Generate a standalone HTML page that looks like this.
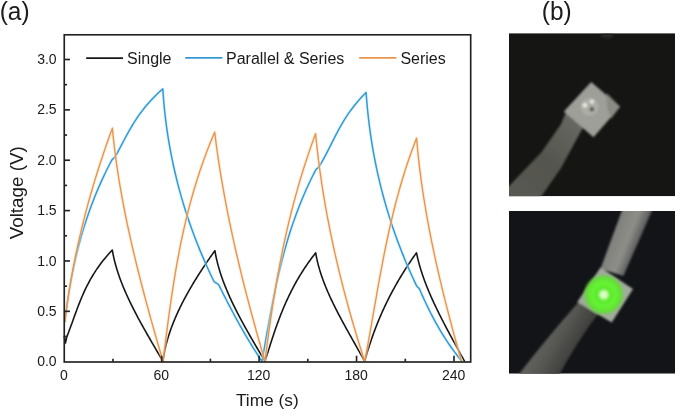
<!DOCTYPE html>
<html><head><meta charset="utf-8"><style>
html,body{margin:0;padding:0;background:#fff;}
body{width:675px;height:411px;overflow:hidden;position:relative;}
svg{position:absolute;left:0;top:0;}
text{font-family:"Liberation Sans",sans-serif;fill:#1a1a1a;}
</style></head><body>
<svg width="675" height="411" viewBox="0 0 675 411">
<defs>
 <filter id="soft" x="-5%" y="-5%" width="110%" height="110%"><feGaussianBlur stdDeviation="1.2"/></filter>
 <filter id="soft2" x="-20%" y="-20%" width="140%" height="140%"><feGaussianBlur stdDeviation="2.5"/></filter>
 <filter id="blur05"><feGaussianBlur stdDeviation="0.35"/></filter>
 <radialGradient id="glow" cx="0.5" cy="0.5" r="0.5">
  <stop offset="0" stop-color="#f4fff0"/>
  <stop offset="0.15" stop-color="#d0ffb0"/>
  <stop offset="0.3" stop-color="#58e82a"/>
  <stop offset="0.55" stop-color="#66f433"/>
  <stop offset="0.82" stop-color="#5ee030" stop-opacity="0.95"/>
  <stop offset="1" stop-color="#6ad040" stop-opacity="0"/>
 </radialGradient>
 <linearGradient id="arm1" x1="0" y1="1" x2="1" y2="0">
  <stop offset="0" stop-color="#5a5a55"/>
  <stop offset="0.5" stop-color="#55554f"/>
  <stop offset="1" stop-color="#6c6c66"/>
 </linearGradient>
 <linearGradient id="arm2" gradientUnits="userSpaceOnUse" x1="615" y1="232" x2="642" y2="243">
  <stop offset="0" stop-color="#80807c"/>
  <stop offset="0.5" stop-color="#8e8e89"/>
  <stop offset="1" stop-color="#4c4c50"/>
 </linearGradient>
 <linearGradient id="arm3" gradientUnits="userSpaceOnUse" x1="545" y1="330" x2="575" y2="348">
  <stop offset="0" stop-color="#62625e"/>
  <stop offset="0.4" stop-color="#585854"/>
  <stop offset="1" stop-color="#40403d"/>
 </linearGradient>
</defs>
<g filter="url(#blur05)">
<text transform="translate(-0.3,20.3) scale(0.94,1)" font-size="26">(a)</text>
<text transform="translate(541.8,19.8) scale(0.94,1)" font-size="26">(b)</text>
<text transform="translate(23.3,192.8) rotate(-90)" text-anchor="middle" font-size="18.8">Voltage (V)</text>
<text x="267.3" y="406" text-anchor="middle" font-size="17.3">Time (s)</text>
<g font-size="14"><text x="63.85" y="380" text-anchor="middle">0</text><text x="161.29" y="380" text-anchor="middle">60</text><text x="258.73" y="380" text-anchor="middle">120</text><text x="356.16" y="380" text-anchor="middle">180</text><text x="453.60" y="380" text-anchor="middle">240</text><text x="56.6" y="366.30" text-anchor="end">0.0</text><text x="56.6" y="315.93" text-anchor="end">0.5</text><text x="56.6" y="265.57" text-anchor="end">1.0</text><text x="56.6" y="215.20" text-anchor="end">1.5</text><text x="56.6" y="164.83" text-anchor="end">2.0</text><text x="56.6" y="114.47" text-anchor="end">2.5</text><text x="56.6" y="64.10" text-anchor="end">3.0</text></g>
<g font-size="16">
<text x="127" y="63.5">Single</text>
<text x="226" y="63.5">Parallel &amp; Series</text>
<text x="400.4" y="63.5">Series</text>
</g>
<line x1="86.2" y1="58.2" x2="123" y2="58.2" stroke="#181818" stroke-width="1.8"/>
<line x1="185.3" y1="57.9" x2="222.3" y2="57.9" stroke="#3498d4" stroke-width="1.6"/>
<line x1="359.1" y1="57.9" x2="396.4" y2="57.9" stroke="#e8944f" stroke-width="1.6"/>
<g fill="none" stroke-linejoin="round" stroke-linecap="round">
<path d="M64.30,336.30L65.40,343.00L66.90,336.60L67.47,335.13L68.04,333.67L68.60,332.20L69.16,330.74L69.70,329.27L70.25,327.80L70.79,326.34L71.32,324.87L71.85,323.41L72.38,321.94L72.91,320.47L73.44,319.01L73.97,317.54L74.50,316.07L75.03,314.61L75.57,313.14L76.11,311.68L76.65,310.21L77.20,308.74L77.75,307.28L78.31,305.81L78.88,304.35L79.46,302.88L80.04,301.41L80.64,299.95L81.24,298.48L81.86,297.02L82.49,295.55L83.13,294.08L83.79,292.62L84.46,291.15L85.15,289.68L85.85,288.22L86.57,286.75L87.30,285.29L88.06,283.82L88.83,282.35L89.63,280.89L90.44,279.42L91.28,277.96L92.14,276.49L93.02,275.02L93.92,273.56L94.85,272.09L95.81,270.63L96.79,269.16L97.80,267.69L98.84,266.23L99.90,264.76L101.00,263.29L102.12,261.83L103.28,260.36L104.46,258.90L105.68,257.43L106.94,255.96L108.22,254.50L109.55,253.03L110.90,251.57L112.30,250.10L112.63,251.99L112.99,253.87L113.37,255.76L113.78,257.65L114.22,259.53L114.68,261.42L115.17,263.31L115.69,265.19L116.23,267.08L116.79,268.96L117.38,270.85L117.99,272.74L118.62,274.62L119.28,276.51L119.95,278.40L120.65,280.28L121.37,282.17L122.11,284.06L122.86,285.94L123.64,287.83L124.43,289.72L125.24,291.60L126.07,293.49L126.92,295.37L127.78,297.26L128.66,299.15L129.55,301.03L130.46,302.92L131.38,304.81L132.31,306.69L133.26,308.58L134.22,310.47L135.20,312.35L136.18,314.24L137.17,316.13L138.18,318.01L139.20,319.90L140.22,321.78L141.25,323.67L142.30,325.56L143.35,327.44L144.40,329.33L145.47,331.22L146.54,333.10L147.62,334.99L148.70,336.88L149.78,338.76L150.87,340.65L151.97,342.54L153.07,344.42L154.17,346.31L155.27,348.19L156.37,350.08L157.48,351.97L158.58,353.85L159.69,355.74L160.79,357.63L161.90,359.51L163.00,361.40L163.24,359.52L163.51,357.64L163.81,355.77L164.14,353.89L164.49,352.01L164.87,350.13L165.28,348.25L165.71,346.38L166.17,344.50L166.66,342.62L167.17,340.74L167.70,338.86L168.26,336.99L168.85,335.11L169.46,333.23L170.09,331.35L170.75,329.47L171.43,327.60L172.13,325.72L172.85,323.84L173.60,321.96L174.37,320.08L175.15,318.21L175.96,316.33L176.79,314.45L177.65,312.57L178.52,310.69L179.41,308.82L180.32,306.94L181.25,305.06L182.19,303.18L183.16,301.31L184.14,299.43L185.14,297.55L186.16,295.67L187.20,293.79L188.25,291.92L189.32,290.04L190.40,288.16L191.50,286.28L192.61,284.40L193.74,282.53L194.89,280.65L196.05,278.77L197.22,276.89L198.41,275.01L199.60,273.14L200.82,271.26L202.04,269.38L203.28,267.50L204.53,265.62L205.79,263.75L207.06,261.87L208.34,259.99L209.63,258.11L210.93,256.23L212.25,254.36L213.57,252.48L214.90,250.60L215.22,252.48L215.56,254.36L215.94,256.23L216.34,258.11L216.76,259.99L217.21,261.87L217.69,263.75L218.19,265.62L218.71,267.50L219.26,269.38L219.83,271.26L220.43,273.14L221.05,275.01L221.68,276.89L222.34,278.77L223.02,280.65L223.72,282.53L224.44,284.40L225.18,286.28L225.94,288.16L226.72,290.04L227.51,291.92L228.32,293.79L229.15,295.67L230.00,297.55L230.86,299.43L231.73,301.31L232.62,303.18L233.53,305.06L234.45,306.94L235.38,308.82L236.33,310.69L237.28,312.57L238.25,314.45L239.24,316.33L240.23,318.21L241.23,320.08L242.25,321.96L243.27,323.84L244.30,325.72L245.34,327.60L246.39,329.47L247.45,331.35L248.51,333.23L249.58,335.11L250.66,336.99L251.74,338.86L252.83,340.74L253.92,342.62L255.02,344.50L256.12,346.38L257.22,348.25L258.33,350.13L259.44,352.01L260.55,353.89L261.66,355.77L262.77,357.64L263.89,359.52L265.00,361.40L265.58,359.56L266.15,357.72L266.73,355.88L267.30,354.04L267.88,352.20L268.46,350.36L269.04,348.52L269.62,346.67L270.21,344.83L270.80,342.99L271.40,341.15L272.00,339.31L272.60,337.47L273.21,335.63L273.83,333.79L274.46,331.95L275.09,330.11L275.73,328.27L276.38,326.43L277.04,324.59L277.71,322.75L278.39,320.91L279.08,319.06L279.78,317.22L280.49,315.38L281.22,313.54L281.96,311.70L282.71,309.86L283.47,308.02L284.26,306.18L285.05,304.34L285.86,302.50L286.69,300.66L287.54,298.82L288.40,296.98L289.28,295.14L290.18,293.29L291.10,291.45L292.03,289.61L292.99,287.77L293.97,285.93L294.97,284.09L295.99,282.25L297.03,280.41L298.10,278.57L299.18,276.73L300.30,274.89L301.43,273.05L302.60,271.21L303.78,269.37L305.00,267.53L306.24,265.68L307.50,263.84L308.80,262.00L310.12,260.16L311.47,258.32L312.85,256.48L314.26,254.64L315.70,252.80L316.01,254.64L316.35,256.48L316.72,258.32L317.12,260.16L317.55,262.00L318.00,263.84L318.48,265.68L318.98,267.53L319.52,269.37L320.07,271.21L320.65,273.05L321.25,274.89L321.88,276.73L322.53,278.57L323.20,280.41L323.89,282.25L324.60,284.09L325.33,285.93L326.08,287.77L326.85,289.61L327.63,291.45L328.44,293.29L329.26,295.14L330.09,296.98L330.95,298.82L331.81,300.66L332.69,302.50L333.59,304.34L334.50,306.18L335.42,308.02L336.35,309.86L337.29,311.70L338.24,313.54L339.21,315.38L340.18,317.22L341.16,319.06L342.15,320.91L343.14,322.75L344.15,324.59L345.16,326.43L346.17,328.27L347.19,330.11L348.22,331.95L349.25,333.79L350.28,335.63L351.31,337.47L352.35,339.31L353.38,341.15L354.42,342.99L355.46,344.83L356.50,346.67L357.53,348.52L358.57,350.36L359.60,352.20L360.63,354.04L361.65,355.88L362.67,357.72L363.69,359.56L364.70,361.40L365.20,359.56L365.72,357.72L366.24,355.88L366.77,354.04L367.32,352.20L367.88,350.36L368.45,348.52L369.03,346.67L369.62,344.83L370.22,342.99L370.83,341.15L371.46,339.31L372.10,337.47L372.75,335.63L373.41,333.79L374.09,331.95L374.77,330.11L375.47,328.27L376.19,326.43L376.91,324.59L377.65,322.75L378.40,320.91L379.17,319.06L379.95,317.22L380.74,315.38L381.54,313.54L382.36,311.70L383.19,309.86L384.04,308.02L384.90,306.18L385.78,304.34L386.66,302.50L387.57,300.66L388.49,298.82L389.42,296.98L390.37,295.14L391.33,293.29L392.30,291.45L393.30,289.61L394.30,287.77L395.33,285.93L396.37,284.09L397.42,282.25L398.49,280.41L399.57,278.57L400.68,276.73L401.79,274.89L402.93,273.05L404.08,271.21L405.24,269.37L406.43,267.53L407.62,265.68L408.84,263.84L410.07,262.00L411.32,260.16L412.59,258.32L413.88,256.48L415.18,254.64L416.50,252.80L416.88,254.64L417.28,256.48L417.71,258.32L418.16,260.16L418.63,262.00L419.13,263.84L419.64,265.68L420.18,267.53L420.73,269.37L421.31,271.21L421.91,273.05L422.52,274.89L423.15,276.73L423.80,278.57L424.47,280.41L425.16,282.25L425.86,284.09L426.58,285.93L427.32,287.77L428.07,289.61L428.83,291.45L429.61,293.29L430.40,295.14L431.21,296.98L432.03,298.82L432.87,300.66L433.71,302.50L434.57,304.34L435.44,306.18L436.32,308.02L437.21,309.86L438.11,311.70L439.02,313.54L439.94,315.38L440.87,317.22L441.80,319.06L442.75,320.91L443.70,322.75L444.66,324.59L445.62,326.43L446.59,328.27L447.57,330.11L448.55,331.95L449.54,333.79L450.53,335.63L451.52,337.47L452.52,339.31L453.52,341.15L454.53,342.99L455.53,344.83L456.54,346.67L457.55,348.52L458.56,350.36L459.57,352.20L460.57,354.04L461.58,355.88L462.59,357.72L463.60,359.56L464.60,361.40" stroke="#181818" stroke-width="1.6"/>
<path d="M64.90,321.50L65.23,318.77L65.56,316.04L65.90,313.30L66.26,310.57L66.63,307.84L67.00,305.11L67.39,302.37L67.80,299.64L68.21,296.91L68.64,294.18L69.08,291.45L69.53,288.71L70.00,285.98L70.48,283.25L70.98,280.52L71.49,277.78L72.01,275.05L72.55,272.32L73.11,269.59L73.68,266.86L74.27,264.12L74.88,261.39L75.50,258.66L76.14,255.93L76.79,253.19L77.47,250.46L78.16,247.73L78.87,245.00L79.60,242.27L80.35,239.53L81.11,236.80L81.90,234.07L82.71,231.34L83.53,228.61L84.38,225.87L85.25,223.14L86.14,220.41L87.05,217.68L87.98,214.94L88.94,212.21L89.92,209.48L90.92,206.75L91.94,204.02L92.99,201.28L94.06,198.55L95.15,195.82L96.27,193.09L97.41,190.35L98.58,187.62L99.77,184.89L100.99,182.16L102.24,179.43L103.51,176.69L104.81,173.96L106.13,171.23L107.48,168.50L108.86,165.76L110.27,163.03L111.70,160.30L113.30,158.50L114.40,157.60L115.70,155.90L116.32,154.76L116.93,153.63L117.54,152.49L118.14,151.36L118.75,150.22L119.35,149.09L119.94,147.95L120.54,146.82L121.14,145.68L121.73,144.54L122.33,143.41L122.92,142.27L123.52,141.14L124.12,140.00L124.73,138.87L125.33,137.73L125.95,136.59L126.56,135.46L127.18,134.32L127.81,133.19L128.44,132.05L129.08,130.92L129.72,129.78L130.38,128.65L131.04,127.51L131.71,126.37L132.40,125.24L133.09,124.10L133.79,122.97L134.50,121.83L135.23,120.70L135.97,119.56L136.72,118.43L137.49,117.29L138.27,116.15L139.06,115.02L139.87,113.88L140.70,112.75L141.54,111.61L142.40,110.48L143.28,109.34L144.18,108.21L145.09,107.07L146.03,105.93L146.99,104.80L147.96,103.66L148.96,102.53L149.98,101.39L151.02,100.26L152.08,99.12L153.17,97.98L154.29,96.85L155.42,95.71L156.59,94.58L157.77,93.44L158.99,92.31L160.23,91.17L161.50,90.04L162.80,88.90L163.02,92.16L163.25,95.43L163.50,98.69L163.78,101.96L164.08,105.22L164.39,108.49L164.73,111.75L165.09,115.02L165.47,118.28L165.88,121.54L166.30,124.81L166.75,128.07L167.21,131.34L167.70,134.60L168.21,137.87L168.74,141.13L169.30,144.39L169.88,147.66L170.48,150.92L171.10,154.19L171.74,157.45L172.41,160.72L173.10,163.98L173.81,167.25L174.55,170.51L175.31,173.77L176.09,177.04L176.89,180.30L177.72,183.57L178.57,186.83L179.45,190.10L180.35,193.36L181.27,196.63L182.22,199.89L183.19,203.15L184.19,206.42L185.21,209.68L186.25,212.95L187.32,216.21L188.41,219.48L189.53,222.74L190.67,226.01L191.84,229.27L193.03,232.53L194.25,235.80L195.49,239.06L196.76,242.33L198.06,245.59L199.38,248.86L200.72,252.12L202.09,255.38L203.49,258.65L204.91,261.91L206.36,265.18L207.84,268.44L209.34,271.71L210.86,274.97L212.42,278.24L214.00,281.50L215.20,282.50L216.50,283.20L218.30,284.30L219.30,285.90L219.94,287.18L220.57,288.46L221.21,289.74L221.85,291.02L222.50,292.30L223.14,293.58L223.79,294.86L224.43,296.14L225.08,297.42L225.74,298.70L226.39,299.98L227.05,301.26L227.71,302.54L228.37,303.82L229.03,305.09L229.70,306.37L230.37,307.65L231.04,308.93L231.72,310.21L232.40,311.49L233.08,312.77L233.76,314.05L234.45,315.33L235.14,316.61L235.83,317.89L236.53,319.17L237.23,320.45L237.94,321.73L238.65,323.01L239.36,324.29L240.08,325.57L240.80,326.85L241.52,328.13L242.25,329.41L242.98,330.69L243.72,331.97L244.46,333.25L245.20,334.53L245.95,335.81L246.70,337.09L247.46,338.37L248.23,339.65L248.99,340.93L249.77,342.21L250.55,343.48L251.33,344.76L252.12,346.04L252.91,347.32L253.71,348.60L254.51,349.88L255.32,351.16L256.14,352.44L256.96,353.72L257.78,355.00L258.61,356.28L259.45,357.56L260.29,358.84L261.14,360.12L262.00,361.40L262.58,358.16L263.15,354.92L263.73,351.68L264.30,348.44L264.86,345.21L265.43,341.97L266.00,338.73L266.57,335.49L267.14,332.25L267.72,329.01L268.30,325.77L268.88,322.53L269.47,319.29L270.07,316.05L270.67,312.82L271.28,309.58L271.89,306.34L272.52,303.10L273.16,299.86L273.80,296.62L274.46,293.38L275.13,290.14L275.81,286.90L276.51,283.66L277.22,280.43L277.95,277.19L278.69,273.95L279.45,270.71L280.22,267.47L281.02,264.23L281.83,260.99L282.67,257.75L283.52,254.51L284.40,251.27L285.30,248.04L286.22,244.80L287.16,241.56L288.13,238.32L289.12,235.08L290.14,231.84L291.19,228.60L292.27,225.36L293.37,222.12L294.50,218.88L295.66,215.65L296.86,212.41L298.08,209.17L299.34,205.93L300.63,202.69L301.95,199.45L303.31,196.21L304.70,192.97L306.13,189.73L307.59,186.49L309.10,183.26L310.64,180.02L312.22,176.78L313.84,173.54L315.50,170.30L316.60,169.00L317.70,168.10L319.50,166.00L320.23,164.75L320.96,163.51L321.67,162.26L322.37,161.02L323.06,159.77L323.75,158.53L324.42,157.28L325.08,156.03L325.74,154.79L326.40,153.54L327.04,152.30L327.68,151.05L328.32,149.81L328.96,148.56L329.59,147.31L330.22,146.07L330.85,144.82L331.48,143.58L332.10,142.33L332.73,141.08L333.37,139.84L334.00,138.59L334.64,137.35L335.28,136.10L335.93,134.86L336.58,133.61L337.24,132.36L337.90,131.12L338.58,129.87L339.26,128.63L339.95,127.38L340.65,126.14L341.36,124.89L342.09,123.64L342.82,122.40L343.57,121.15L344.34,119.91L345.11,118.66L345.91,117.42L346.71,116.17L347.54,114.92L348.38,113.68L349.24,112.43L350.12,111.19L351.02,109.94L351.94,108.69L352.88,107.45L353.85,106.20L354.83,104.96L355.84,103.71L356.87,102.47L357.93,101.22L359.02,99.97L360.13,98.73L361.26,97.48L362.43,96.24L363.62,94.99L364.85,93.75L366.10,92.50L366.33,95.77L366.59,99.05L366.86,102.32L367.15,105.59L367.46,108.86L367.78,112.14L368.13,115.41L368.50,118.68L368.89,121.96L369.29,125.23L369.72,128.50L370.17,131.77L370.64,135.05L371.12,138.32L371.63,141.59L372.16,144.87L372.71,148.14L373.28,151.41L373.87,154.68L374.49,157.96L375.12,161.23L375.78,164.50L376.46,167.78L377.16,171.05L377.88,174.32L378.62,177.59L379.39,180.87L380.18,184.14L380.99,187.41L381.82,190.69L382.68,193.96L383.56,197.23L384.46,200.51L385.39,203.78L386.34,207.05L387.31,210.32L388.31,213.60L389.33,216.87L390.37,220.14L391.44,223.42L392.53,226.69L393.65,229.96L394.79,233.23L395.96,236.51L397.15,239.78L398.36,243.05L399.60,246.33L400.87,249.60L402.16,252.87L403.48,256.14L404.82,259.42L406.19,262.69L407.58,265.96L409.00,269.24L410.45,272.51L411.92,275.78L413.42,279.05L414.95,282.33L416.50,285.60L417.50,287.00L418.70,288.00L419.60,289.30L420.14,290.52L420.67,291.74L421.21,292.97L421.76,294.19L422.30,295.41L422.85,296.63L423.41,297.85L423.97,299.08L424.53,300.30L425.10,301.52L425.67,302.74L426.25,303.96L426.83,305.19L427.41,306.41L428.01,307.63L428.60,308.85L429.21,310.07L429.82,311.30L430.43,312.52L431.05,313.74L431.68,314.96L432.32,316.18L432.96,317.41L433.60,318.63L434.26,319.85L434.92,321.07L435.59,322.29L436.27,323.52L436.95,324.74L437.64,325.96L438.34,327.18L439.05,328.41L439.77,329.63L440.50,330.85L441.23,332.07L441.97,333.29L442.72,334.52L443.49,335.74L444.26,336.96L445.04,338.18L445.83,339.40L446.63,340.63L447.44,341.85L448.26,343.07L449.09,344.29L449.93,345.51L450.78,346.74L451.64,347.96L452.52,349.18L453.40,350.40L454.30,351.62L455.21,352.85L456.13,354.07L457.06,355.29L458.00,356.51L458.96,357.73L459.93,358.96L460.91,360.18L461.90,361.40" stroke="#bfeefa" stroke-width="3.4" opacity="0.45"/>
<path d="M64.90,321.50L65.23,318.77L65.56,316.04L65.90,313.30L66.26,310.57L66.63,307.84L67.00,305.11L67.39,302.37L67.80,299.64L68.21,296.91L68.64,294.18L69.08,291.45L69.53,288.71L70.00,285.98L70.48,283.25L70.98,280.52L71.49,277.78L72.01,275.05L72.55,272.32L73.11,269.59L73.68,266.86L74.27,264.12L74.88,261.39L75.50,258.66L76.14,255.93L76.79,253.19L77.47,250.46L78.16,247.73L78.87,245.00L79.60,242.27L80.35,239.53L81.11,236.80L81.90,234.07L82.71,231.34L83.53,228.61L84.38,225.87L85.25,223.14L86.14,220.41L87.05,217.68L87.98,214.94L88.94,212.21L89.92,209.48L90.92,206.75L91.94,204.02L92.99,201.28L94.06,198.55L95.15,195.82L96.27,193.09L97.41,190.35L98.58,187.62L99.77,184.89L100.99,182.16L102.24,179.43L103.51,176.69L104.81,173.96L106.13,171.23L107.48,168.50L108.86,165.76L110.27,163.03L111.70,160.30L113.30,158.50L114.40,157.60L115.70,155.90L116.32,154.76L116.93,153.63L117.54,152.49L118.14,151.36L118.75,150.22L119.35,149.09L119.94,147.95L120.54,146.82L121.14,145.68L121.73,144.54L122.33,143.41L122.92,142.27L123.52,141.14L124.12,140.00L124.73,138.87L125.33,137.73L125.95,136.59L126.56,135.46L127.18,134.32L127.81,133.19L128.44,132.05L129.08,130.92L129.72,129.78L130.38,128.65L131.04,127.51L131.71,126.37L132.40,125.24L133.09,124.10L133.79,122.97L134.50,121.83L135.23,120.70L135.97,119.56L136.72,118.43L137.49,117.29L138.27,116.15L139.06,115.02L139.87,113.88L140.70,112.75L141.54,111.61L142.40,110.48L143.28,109.34L144.18,108.21L145.09,107.07L146.03,105.93L146.99,104.80L147.96,103.66L148.96,102.53L149.98,101.39L151.02,100.26L152.08,99.12L153.17,97.98L154.29,96.85L155.42,95.71L156.59,94.58L157.77,93.44L158.99,92.31L160.23,91.17L161.50,90.04L162.80,88.90L163.02,92.16L163.25,95.43L163.50,98.69L163.78,101.96L164.08,105.22L164.39,108.49L164.73,111.75L165.09,115.02L165.47,118.28L165.88,121.54L166.30,124.81L166.75,128.07L167.21,131.34L167.70,134.60L168.21,137.87L168.74,141.13L169.30,144.39L169.88,147.66L170.48,150.92L171.10,154.19L171.74,157.45L172.41,160.72L173.10,163.98L173.81,167.25L174.55,170.51L175.31,173.77L176.09,177.04L176.89,180.30L177.72,183.57L178.57,186.83L179.45,190.10L180.35,193.36L181.27,196.63L182.22,199.89L183.19,203.15L184.19,206.42L185.21,209.68L186.25,212.95L187.32,216.21L188.41,219.48L189.53,222.74L190.67,226.01L191.84,229.27L193.03,232.53L194.25,235.80L195.49,239.06L196.76,242.33L198.06,245.59L199.38,248.86L200.72,252.12L202.09,255.38L203.49,258.65L204.91,261.91L206.36,265.18L207.84,268.44L209.34,271.71L210.86,274.97L212.42,278.24L214.00,281.50L215.20,282.50L216.50,283.20L218.30,284.30L219.30,285.90L219.94,287.18L220.57,288.46L221.21,289.74L221.85,291.02L222.50,292.30L223.14,293.58L223.79,294.86L224.43,296.14L225.08,297.42L225.74,298.70L226.39,299.98L227.05,301.26L227.71,302.54L228.37,303.82L229.03,305.09L229.70,306.37L230.37,307.65L231.04,308.93L231.72,310.21L232.40,311.49L233.08,312.77L233.76,314.05L234.45,315.33L235.14,316.61L235.83,317.89L236.53,319.17L237.23,320.45L237.94,321.73L238.65,323.01L239.36,324.29L240.08,325.57L240.80,326.85L241.52,328.13L242.25,329.41L242.98,330.69L243.72,331.97L244.46,333.25L245.20,334.53L245.95,335.81L246.70,337.09L247.46,338.37L248.23,339.65L248.99,340.93L249.77,342.21L250.55,343.48L251.33,344.76L252.12,346.04L252.91,347.32L253.71,348.60L254.51,349.88L255.32,351.16L256.14,352.44L256.96,353.72L257.78,355.00L258.61,356.28L259.45,357.56L260.29,358.84L261.14,360.12L262.00,361.40L262.58,358.16L263.15,354.92L263.73,351.68L264.30,348.44L264.86,345.21L265.43,341.97L266.00,338.73L266.57,335.49L267.14,332.25L267.72,329.01L268.30,325.77L268.88,322.53L269.47,319.29L270.07,316.05L270.67,312.82L271.28,309.58L271.89,306.34L272.52,303.10L273.16,299.86L273.80,296.62L274.46,293.38L275.13,290.14L275.81,286.90L276.51,283.66L277.22,280.43L277.95,277.19L278.69,273.95L279.45,270.71L280.22,267.47L281.02,264.23L281.83,260.99L282.67,257.75L283.52,254.51L284.40,251.27L285.30,248.04L286.22,244.80L287.16,241.56L288.13,238.32L289.12,235.08L290.14,231.84L291.19,228.60L292.27,225.36L293.37,222.12L294.50,218.88L295.66,215.65L296.86,212.41L298.08,209.17L299.34,205.93L300.63,202.69L301.95,199.45L303.31,196.21L304.70,192.97L306.13,189.73L307.59,186.49L309.10,183.26L310.64,180.02L312.22,176.78L313.84,173.54L315.50,170.30L316.60,169.00L317.70,168.10L319.50,166.00L320.23,164.75L320.96,163.51L321.67,162.26L322.37,161.02L323.06,159.77L323.75,158.53L324.42,157.28L325.08,156.03L325.74,154.79L326.40,153.54L327.04,152.30L327.68,151.05L328.32,149.81L328.96,148.56L329.59,147.31L330.22,146.07L330.85,144.82L331.48,143.58L332.10,142.33L332.73,141.08L333.37,139.84L334.00,138.59L334.64,137.35L335.28,136.10L335.93,134.86L336.58,133.61L337.24,132.36L337.90,131.12L338.58,129.87L339.26,128.63L339.95,127.38L340.65,126.14L341.36,124.89L342.09,123.64L342.82,122.40L343.57,121.15L344.34,119.91L345.11,118.66L345.91,117.42L346.71,116.17L347.54,114.92L348.38,113.68L349.24,112.43L350.12,111.19L351.02,109.94L351.94,108.69L352.88,107.45L353.85,106.20L354.83,104.96L355.84,103.71L356.87,102.47L357.93,101.22L359.02,99.97L360.13,98.73L361.26,97.48L362.43,96.24L363.62,94.99L364.85,93.75L366.10,92.50L366.33,95.77L366.59,99.05L366.86,102.32L367.15,105.59L367.46,108.86L367.78,112.14L368.13,115.41L368.50,118.68L368.89,121.96L369.29,125.23L369.72,128.50L370.17,131.77L370.64,135.05L371.12,138.32L371.63,141.59L372.16,144.87L372.71,148.14L373.28,151.41L373.87,154.68L374.49,157.96L375.12,161.23L375.78,164.50L376.46,167.78L377.16,171.05L377.88,174.32L378.62,177.59L379.39,180.87L380.18,184.14L380.99,187.41L381.82,190.69L382.68,193.96L383.56,197.23L384.46,200.51L385.39,203.78L386.34,207.05L387.31,210.32L388.31,213.60L389.33,216.87L390.37,220.14L391.44,223.42L392.53,226.69L393.65,229.96L394.79,233.23L395.96,236.51L397.15,239.78L398.36,243.05L399.60,246.33L400.87,249.60L402.16,252.87L403.48,256.14L404.82,259.42L406.19,262.69L407.58,265.96L409.00,269.24L410.45,272.51L411.92,275.78L413.42,279.05L414.95,282.33L416.50,285.60L417.50,287.00L418.70,288.00L419.60,289.30L420.14,290.52L420.67,291.74L421.21,292.97L421.76,294.19L422.30,295.41L422.85,296.63L423.41,297.85L423.97,299.08L424.53,300.30L425.10,301.52L425.67,302.74L426.25,303.96L426.83,305.19L427.41,306.41L428.01,307.63L428.60,308.85L429.21,310.07L429.82,311.30L430.43,312.52L431.05,313.74L431.68,314.96L432.32,316.18L432.96,317.41L433.60,318.63L434.26,319.85L434.92,321.07L435.59,322.29L436.27,323.52L436.95,324.74L437.64,325.96L438.34,327.18L439.05,328.41L439.77,329.63L440.50,330.85L441.23,332.07L441.97,333.29L442.72,334.52L443.49,335.74L444.26,336.96L445.04,338.18L445.83,339.40L446.63,340.63L447.44,341.85L448.26,343.07L449.09,344.29L449.93,345.51L450.78,346.74L451.64,347.96L452.52,349.18L453.40,350.40L454.30,351.62L455.21,352.85L456.13,354.07L457.06,355.29L458.00,356.51L458.96,357.73L459.93,358.96L460.91,360.18L461.90,361.40" stroke="#3498d4" stroke-width="1.5"/>
<path d="M64.90,321.50L65.30,318.22L65.71,314.95L66.14,311.67L66.58,308.39L67.03,305.12L67.50,301.84L67.98,298.57L68.48,295.29L68.99,292.01L69.52,288.74L70.06,285.46L70.61,282.18L71.18,278.91L71.76,275.63L72.36,272.36L72.97,269.08L73.60,265.80L74.24,262.53L74.89,259.25L75.56,255.97L76.24,252.70L76.93,249.42L77.64,246.15L78.36,242.87L79.10,239.59L79.85,236.32L80.62,233.04L81.39,229.76L82.19,226.49L82.99,223.21L83.81,219.94L84.65,216.66L85.50,213.38L86.36,210.11L87.24,206.83L88.13,203.55L89.03,200.28L89.95,197.00L90.88,193.73L91.83,190.45L92.78,187.17L93.76,183.90L94.74,180.62L95.75,177.34L96.76,174.07L97.79,170.79L98.83,167.52L99.88,164.24L100.95,160.96L102.04,157.69L103.13,154.41L104.24,151.13L105.37,147.86L106.51,144.58L107.66,141.31L108.82,138.03L110.00,134.75L111.19,131.48L112.40,128.20L112.77,132.15L113.17,136.11L113.59,140.06L114.03,144.01L114.49,147.96L114.98,151.92L115.49,155.87L116.02,159.82L116.57,163.77L117.14,167.73L117.73,171.68L118.34,175.63L118.97,179.58L119.62,183.54L120.28,187.49L120.97,191.44L121.67,195.39L122.40,199.35L123.14,203.30L123.89,207.25L124.67,211.20L125.45,215.16L126.26,219.11L127.08,223.06L127.92,227.01L128.77,230.97L129.64,234.92L130.52,238.87L131.41,242.82L132.32,246.78L133.24,250.73L134.17,254.68L135.12,258.63L136.08,262.59L137.05,266.54L138.03,270.49L139.02,274.44L140.03,278.40L141.04,282.35L142.07,286.30L143.10,290.25L144.14,294.21L145.20,298.16L146.26,302.11L147.33,306.06L148.41,310.02L149.49,313.97L150.59,317.92L151.69,321.87L152.79,325.83L153.91,329.78L155.03,333.73L156.15,337.68L157.28,341.64L158.42,345.59L159.56,349.54L160.70,353.49L161.85,357.45L163.00,361.40L163.49,357.52L163.97,353.63L164.46,349.75L164.95,345.86L165.45,341.98L165.94,338.09L166.44,334.21L166.94,330.32L167.45,326.44L167.96,322.55L168.48,318.67L169.01,314.78L169.54,310.90L170.09,307.01L170.64,303.13L171.20,299.24L171.77,295.36L172.36,291.47L172.95,287.59L173.56,283.71L174.18,279.82L174.82,275.94L175.47,272.05L176.14,268.17L176.82,264.28L177.52,260.40L178.24,256.51L178.97,252.63L179.73,248.74L180.50,244.86L181.29,240.97L182.11,237.09L182.95,233.20L183.81,229.32L184.69,225.43L185.60,221.55L186.53,217.66L187.49,213.78L188.47,209.89L189.48,206.01L190.52,202.13L191.58,198.24L192.68,194.36L193.80,190.47L194.96,186.59L196.14,182.70L197.36,178.82L198.61,174.93L199.89,171.05L201.21,167.16L202.56,163.28L203.95,159.39L205.37,155.51L206.83,151.62L208.32,147.74L209.86,143.85L211.43,139.97L213.04,136.08L214.70,132.20L215.18,136.08L215.67,139.97L216.18,143.85L216.70,147.74L217.25,151.62L217.80,155.51L218.37,159.39L218.96,163.28L219.56,167.16L220.18,171.05L220.81,174.93L221.46,178.82L222.12,182.70L222.79,186.59L223.48,190.47L224.18,194.36L224.90,198.24L225.63,202.13L226.37,206.01L227.13,209.89L227.89,213.78L228.68,217.66L229.47,221.55L230.28,225.43L231.10,229.32L231.93,233.20L232.77,237.09L233.62,240.97L234.49,244.86L235.37,248.74L236.26,252.63L237.16,256.51L238.07,260.40L238.99,264.28L239.92,268.17L240.86,272.05L241.81,275.94L242.78,279.82L243.75,283.71L244.73,287.59L245.72,291.47L246.72,295.36L247.73,299.24L248.75,303.13L249.78,307.01L250.82,310.90L251.86,314.78L252.92,318.67L253.98,322.55L255.05,326.44L256.12,330.32L257.21,334.21L258.30,338.09L259.40,341.98L260.51,345.86L261.62,349.75L262.74,353.63L263.87,357.52L265.00,361.40L265.48,357.54L265.96,353.68L266.45,349.82L266.95,345.96L267.45,342.10L267.97,338.24L268.49,334.38L269.02,330.53L269.56,326.67L270.11,322.81L270.66,318.95L271.23,315.09L271.81,311.23L272.40,307.37L273.00,303.51L273.61,299.65L274.24,295.79L274.87,291.93L275.52,288.07L276.18,284.21L276.86,280.35L277.54,276.49L278.24,272.64L278.96,268.78L279.69,264.92L280.44,261.06L281.20,257.20L281.97,253.34L282.76,249.48L283.57,245.62L284.39,241.76L285.24,237.90L286.09,234.04L286.97,230.18L287.87,226.32L288.78,222.46L289.71,218.61L290.66,214.75L291.63,210.89L292.62,207.03L293.63,203.17L294.66,199.31L295.71,195.45L296.78,191.59L297.87,187.73L298.98,183.87L300.12,180.01L301.28,176.15L302.46,172.29L303.66,168.43L304.89,164.57L306.14,160.72L307.42,156.86L308.72,153.00L310.04,149.14L311.39,145.28L312.77,141.42L314.17,137.56L315.60,133.70L315.98,137.56L316.37,141.42L316.78,145.28L317.21,149.14L317.65,153.00L318.11,156.86L318.59,160.72L319.09,164.57L319.60,168.43L320.13,172.29L320.67,176.15L321.24,180.01L321.81,183.87L322.41,187.73L323.02,191.59L323.65,195.45L324.29,199.31L324.95,203.17L325.62,207.03L326.32,210.89L327.02,214.75L327.74,218.61L328.48,222.46L329.24,226.32L330.00,230.18L330.79,234.04L331.59,237.90L332.40,241.76L333.23,245.62L334.07,249.48L334.93,253.34L335.81,257.20L336.70,261.06L337.60,264.92L338.52,268.78L339.45,272.64L340.40,276.49L341.36,280.35L342.33,284.21L343.32,288.07L344.33,291.93L345.34,295.79L346.38,299.65L347.42,303.51L348.48,307.37L349.55,311.23L350.64,315.09L351.74,318.95L352.85,322.81L353.98,326.67L355.12,330.53L356.27,334.38L357.43,338.24L358.61,342.10L359.80,345.96L361.01,349.82L362.22,353.68L363.45,357.54L364.70,361.40L365.43,357.62L366.14,353.83L366.84,350.05L367.54,346.26L368.23,342.48L368.91,338.69L369.59,334.91L370.26,331.12L370.93,327.34L371.60,323.55L372.26,319.77L372.92,315.98L373.58,312.20L374.24,308.41L374.91,304.63L375.57,300.84L376.23,297.06L376.90,293.27L377.57,289.49L378.25,285.71L378.93,281.92L379.62,278.14L380.32,274.35L381.02,270.57L381.73,266.78L382.45,263.00L383.18,259.21L383.92,255.43L384.68,251.64L385.44,247.86L386.22,244.07L387.02,240.29L387.82,236.50L388.65,232.72L389.49,228.93L390.35,225.15L391.22,221.36L392.11,217.58L393.03,213.79L393.96,210.01L394.92,206.23L395.89,202.44L396.89,198.66L397.92,194.87L398.96,191.09L400.03,187.30L401.13,183.52L402.26,179.73L403.41,175.95L404.59,172.16L405.80,168.38L407.04,164.59L408.30,160.81L409.60,157.02L410.94,153.24L412.30,149.45L413.70,145.67L415.13,141.88L416.60,138.10L416.92,141.88L417.25,145.67L417.61,149.45L417.98,153.24L418.38,157.02L418.79,160.81L419.22,164.59L419.67,168.38L420.14,172.16L420.63,175.95L421.13,179.73L421.66,183.52L422.19,187.30L422.75,191.09L423.32,194.87L423.91,198.66L424.52,202.44L425.14,206.23L425.78,210.01L426.43,213.79L427.10,217.58L427.78,221.36L428.48,225.15L429.19,228.93L429.92,232.72L430.66,236.50L431.42,240.29L432.19,244.07L432.97,247.86L433.76,251.64L434.57,255.43L435.39,259.21L436.23,263.00L437.07,266.78L437.93,270.57L438.80,274.35L439.68,278.14L440.57,281.92L441.48,285.71L442.39,289.49L443.32,293.27L444.25,297.06L445.20,300.84L446.15,304.63L447.12,308.41L448.09,312.20L449.07,315.98L450.07,319.77L451.07,323.55L452.08,327.34L453.09,331.12L454.12,334.91L455.15,338.69L456.19,342.48L457.24,346.26L458.29,350.05L459.36,353.83L460.42,357.62L461.50,361.40" stroke="#fbe3bd" stroke-width="3.4" opacity="0.45"/>
<path d="M64.90,321.50L65.30,318.22L65.71,314.95L66.14,311.67L66.58,308.39L67.03,305.12L67.50,301.84L67.98,298.57L68.48,295.29L68.99,292.01L69.52,288.74L70.06,285.46L70.61,282.18L71.18,278.91L71.76,275.63L72.36,272.36L72.97,269.08L73.60,265.80L74.24,262.53L74.89,259.25L75.56,255.97L76.24,252.70L76.93,249.42L77.64,246.15L78.36,242.87L79.10,239.59L79.85,236.32L80.62,233.04L81.39,229.76L82.19,226.49L82.99,223.21L83.81,219.94L84.65,216.66L85.50,213.38L86.36,210.11L87.24,206.83L88.13,203.55L89.03,200.28L89.95,197.00L90.88,193.73L91.83,190.45L92.78,187.17L93.76,183.90L94.74,180.62L95.75,177.34L96.76,174.07L97.79,170.79L98.83,167.52L99.88,164.24L100.95,160.96L102.04,157.69L103.13,154.41L104.24,151.13L105.37,147.86L106.51,144.58L107.66,141.31L108.82,138.03L110.00,134.75L111.19,131.48L112.40,128.20L112.77,132.15L113.17,136.11L113.59,140.06L114.03,144.01L114.49,147.96L114.98,151.92L115.49,155.87L116.02,159.82L116.57,163.77L117.14,167.73L117.73,171.68L118.34,175.63L118.97,179.58L119.62,183.54L120.28,187.49L120.97,191.44L121.67,195.39L122.40,199.35L123.14,203.30L123.89,207.25L124.67,211.20L125.45,215.16L126.26,219.11L127.08,223.06L127.92,227.01L128.77,230.97L129.64,234.92L130.52,238.87L131.41,242.82L132.32,246.78L133.24,250.73L134.17,254.68L135.12,258.63L136.08,262.59L137.05,266.54L138.03,270.49L139.02,274.44L140.03,278.40L141.04,282.35L142.07,286.30L143.10,290.25L144.14,294.21L145.20,298.16L146.26,302.11L147.33,306.06L148.41,310.02L149.49,313.97L150.59,317.92L151.69,321.87L152.79,325.83L153.91,329.78L155.03,333.73L156.15,337.68L157.28,341.64L158.42,345.59L159.56,349.54L160.70,353.49L161.85,357.45L163.00,361.40L163.49,357.52L163.97,353.63L164.46,349.75L164.95,345.86L165.45,341.98L165.94,338.09L166.44,334.21L166.94,330.32L167.45,326.44L167.96,322.55L168.48,318.67L169.01,314.78L169.54,310.90L170.09,307.01L170.64,303.13L171.20,299.24L171.77,295.36L172.36,291.47L172.95,287.59L173.56,283.71L174.18,279.82L174.82,275.94L175.47,272.05L176.14,268.17L176.82,264.28L177.52,260.40L178.24,256.51L178.97,252.63L179.73,248.74L180.50,244.86L181.29,240.97L182.11,237.09L182.95,233.20L183.81,229.32L184.69,225.43L185.60,221.55L186.53,217.66L187.49,213.78L188.47,209.89L189.48,206.01L190.52,202.13L191.58,198.24L192.68,194.36L193.80,190.47L194.96,186.59L196.14,182.70L197.36,178.82L198.61,174.93L199.89,171.05L201.21,167.16L202.56,163.28L203.95,159.39L205.37,155.51L206.83,151.62L208.32,147.74L209.86,143.85L211.43,139.97L213.04,136.08L214.70,132.20L215.18,136.08L215.67,139.97L216.18,143.85L216.70,147.74L217.25,151.62L217.80,155.51L218.37,159.39L218.96,163.28L219.56,167.16L220.18,171.05L220.81,174.93L221.46,178.82L222.12,182.70L222.79,186.59L223.48,190.47L224.18,194.36L224.90,198.24L225.63,202.13L226.37,206.01L227.13,209.89L227.89,213.78L228.68,217.66L229.47,221.55L230.28,225.43L231.10,229.32L231.93,233.20L232.77,237.09L233.62,240.97L234.49,244.86L235.37,248.74L236.26,252.63L237.16,256.51L238.07,260.40L238.99,264.28L239.92,268.17L240.86,272.05L241.81,275.94L242.78,279.82L243.75,283.71L244.73,287.59L245.72,291.47L246.72,295.36L247.73,299.24L248.75,303.13L249.78,307.01L250.82,310.90L251.86,314.78L252.92,318.67L253.98,322.55L255.05,326.44L256.12,330.32L257.21,334.21L258.30,338.09L259.40,341.98L260.51,345.86L261.62,349.75L262.74,353.63L263.87,357.52L265.00,361.40L265.48,357.54L265.96,353.68L266.45,349.82L266.95,345.96L267.45,342.10L267.97,338.24L268.49,334.38L269.02,330.53L269.56,326.67L270.11,322.81L270.66,318.95L271.23,315.09L271.81,311.23L272.40,307.37L273.00,303.51L273.61,299.65L274.24,295.79L274.87,291.93L275.52,288.07L276.18,284.21L276.86,280.35L277.54,276.49L278.24,272.64L278.96,268.78L279.69,264.92L280.44,261.06L281.20,257.20L281.97,253.34L282.76,249.48L283.57,245.62L284.39,241.76L285.24,237.90L286.09,234.04L286.97,230.18L287.87,226.32L288.78,222.46L289.71,218.61L290.66,214.75L291.63,210.89L292.62,207.03L293.63,203.17L294.66,199.31L295.71,195.45L296.78,191.59L297.87,187.73L298.98,183.87L300.12,180.01L301.28,176.15L302.46,172.29L303.66,168.43L304.89,164.57L306.14,160.72L307.42,156.86L308.72,153.00L310.04,149.14L311.39,145.28L312.77,141.42L314.17,137.56L315.60,133.70L315.98,137.56L316.37,141.42L316.78,145.28L317.21,149.14L317.65,153.00L318.11,156.86L318.59,160.72L319.09,164.57L319.60,168.43L320.13,172.29L320.67,176.15L321.24,180.01L321.81,183.87L322.41,187.73L323.02,191.59L323.65,195.45L324.29,199.31L324.95,203.17L325.62,207.03L326.32,210.89L327.02,214.75L327.74,218.61L328.48,222.46L329.24,226.32L330.00,230.18L330.79,234.04L331.59,237.90L332.40,241.76L333.23,245.62L334.07,249.48L334.93,253.34L335.81,257.20L336.70,261.06L337.60,264.92L338.52,268.78L339.45,272.64L340.40,276.49L341.36,280.35L342.33,284.21L343.32,288.07L344.33,291.93L345.34,295.79L346.38,299.65L347.42,303.51L348.48,307.37L349.55,311.23L350.64,315.09L351.74,318.95L352.85,322.81L353.98,326.67L355.12,330.53L356.27,334.38L357.43,338.24L358.61,342.10L359.80,345.96L361.01,349.82L362.22,353.68L363.45,357.54L364.70,361.40L365.43,357.62L366.14,353.83L366.84,350.05L367.54,346.26L368.23,342.48L368.91,338.69L369.59,334.91L370.26,331.12L370.93,327.34L371.60,323.55L372.26,319.77L372.92,315.98L373.58,312.20L374.24,308.41L374.91,304.63L375.57,300.84L376.23,297.06L376.90,293.27L377.57,289.49L378.25,285.71L378.93,281.92L379.62,278.14L380.32,274.35L381.02,270.57L381.73,266.78L382.45,263.00L383.18,259.21L383.92,255.43L384.68,251.64L385.44,247.86L386.22,244.07L387.02,240.29L387.82,236.50L388.65,232.72L389.49,228.93L390.35,225.15L391.22,221.36L392.11,217.58L393.03,213.79L393.96,210.01L394.92,206.23L395.89,202.44L396.89,198.66L397.92,194.87L398.96,191.09L400.03,187.30L401.13,183.52L402.26,179.73L403.41,175.95L404.59,172.16L405.80,168.38L407.04,164.59L408.30,160.81L409.60,157.02L410.94,153.24L412.30,149.45L413.70,145.67L415.13,141.88L416.60,138.10L416.92,141.88L417.25,145.67L417.61,149.45L417.98,153.24L418.38,157.02L418.79,160.81L419.22,164.59L419.67,168.38L420.14,172.16L420.63,175.95L421.13,179.73L421.66,183.52L422.19,187.30L422.75,191.09L423.32,194.87L423.91,198.66L424.52,202.44L425.14,206.23L425.78,210.01L426.43,213.79L427.10,217.58L427.78,221.36L428.48,225.15L429.19,228.93L429.92,232.72L430.66,236.50L431.42,240.29L432.19,244.07L432.97,247.86L433.76,251.64L434.57,255.43L435.39,259.21L436.23,263.00L437.07,266.78L437.93,270.57L438.80,274.35L439.68,278.14L440.57,281.92L441.48,285.71L442.39,289.49L443.32,293.27L444.25,297.06L445.20,300.84L446.15,304.63L447.12,308.41L448.09,312.20L449.07,315.98L450.07,319.77L451.07,323.55L452.08,327.34L453.09,331.12L454.12,334.91L455.15,338.69L456.19,342.48L457.24,346.26L458.29,350.05L459.36,353.83L460.42,357.62L461.50,361.40" stroke="#e8944f" stroke-width="1.4"/>
</g>
<g stroke="#222" stroke-width="1.65" fill="none">
<rect x="64.25" y="34.8" width="406.45" height="327.20"/>
<line x1="112.97" y1="361.70" x2="112.97" y2="358.70"/><line x1="161.69" y1="361.70" x2="161.69" y2="355.70"/><line x1="210.41" y1="361.70" x2="210.41" y2="358.70"/><line x1="259.12" y1="361.70" x2="259.12" y2="355.70"/><line x1="307.84" y1="361.70" x2="307.84" y2="358.70"/><line x1="356.56" y1="361.70" x2="356.56" y2="355.70"/><line x1="405.28" y1="361.70" x2="405.28" y2="358.70"/><line x1="454.00" y1="361.70" x2="454.00" y2="355.70"/><line x1="64.25" y1="336.52" x2="67.05" y2="336.52"/><line x1="64.25" y1="311.33" x2="69.95" y2="311.33"/><line x1="64.25" y1="286.15" x2="67.05" y2="286.15"/><line x1="64.25" y1="260.97" x2="69.95" y2="260.97"/><line x1="64.25" y1="235.78" x2="67.05" y2="235.78"/><line x1="64.25" y1="210.60" x2="69.95" y2="210.60"/><line x1="64.25" y1="185.42" x2="67.05" y2="185.42"/><line x1="64.25" y1="160.23" x2="69.95" y2="160.23"/><line x1="64.25" y1="135.05" x2="67.05" y2="135.05"/><line x1="64.25" y1="109.87" x2="69.95" y2="109.87"/><line x1="64.25" y1="84.68" x2="67.05" y2="84.68"/><line x1="64.25" y1="59.50" x2="69.95" y2="59.50"/>
</g>
</g>
<!-- top photo -->
<svg x="509" y="33.2" width="166" height="163.1" viewBox="509 33.2 166 163.1" overflow="hidden">
<rect x="509" y="33.2" width="166" height="163.1" fill="#151514"/>
<g filter="url(#soft)">
<polygon points="500,192 509.9,185.2 541.5,152.3 561,124.3 566,112 585,122 583,127.5 578,136.5 561,168.1 541.5,196.1 530,202 500,202" fill="url(#arm1)"/>
<polygon points="591.2,81.9 620,106.8 593.5,137.2 563.9,111.5" fill="#9f9f99"/>
<polygon points="606.7,92.8 620,106.8 611.4,118.5 607,108" fill="#86867f" opacity="0.8"/>
<circle cx="589.6" cy="106.8" r="9" fill="#adada6"/>
<circle cx="584.9" cy="105.3" r="2.2" fill="#ececE6"/>
<circle cx="591.9" cy="101.6" r="2.2" fill="#e6e6e0"/>
<circle cx="591.9" cy="109.2" r="2.2" fill="#55554f"/>
<ellipse cx="607" cy="36" rx="7" ry="2.5" fill="#262622"/>
</g>
</svg>
<!-- bottom photo -->
<svg x="509" y="211" width="166" height="162.7" viewBox="509 211 166 162.7" overflow="hidden">
<rect x="509" y="211" width="166" height="162.7" fill="#121418"/>
<g filter="url(#soft)">
<polygon points="624,205 654.5,205 623.4,276 600.5,268.8" fill="url(#arm2)"/>
<path d="M579,301.5 L598,314 Q578,340 557.5,378 L516,378 Q545,340 579,301.5 Z" fill="url(#arm3)"/>
<polygon points="600.5,267.6 633,289 611.7,322.5 577.3,302" fill="#a2aa9d"/>
</g>
<circle cx="603.8" cy="294.7" r="21" fill="url(#glow)" filter="url(#soft)"/>
</svg>

</svg>
</body></html>
